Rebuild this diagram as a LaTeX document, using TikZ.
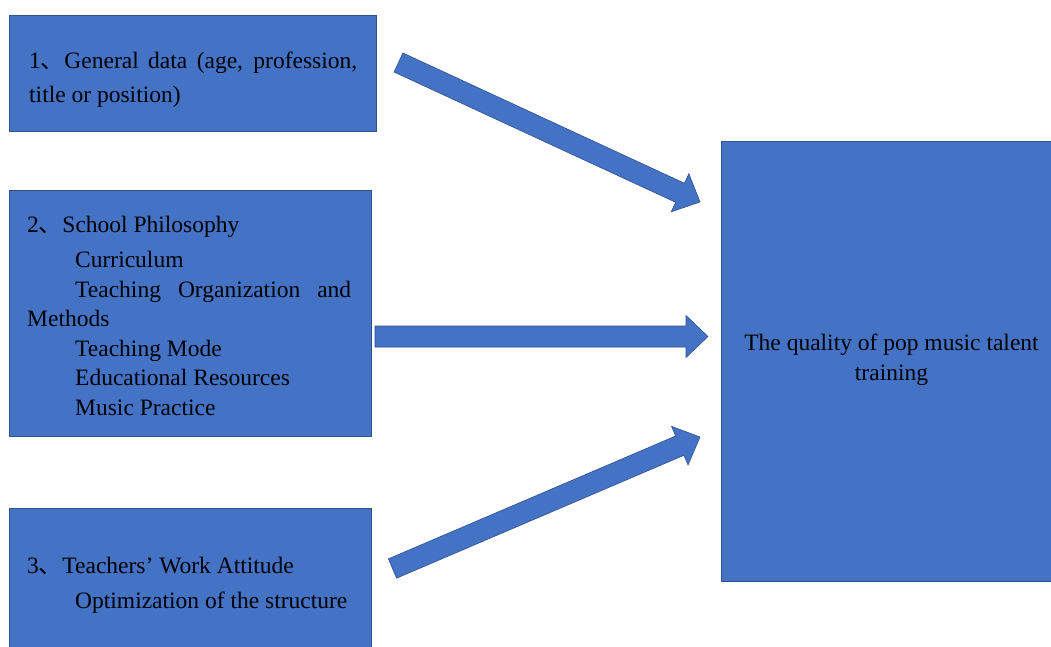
\documentclass[tikz,border=0pt]{standalone}
\usepackage{fontspec}
\setmainfont{Liberation Serif}
\newfontfamily\cjk{Noto Sans CJK SC}
\usetikzlibrary{calc}
\definecolor{boxblue}{HTML}{4472C4}
\definecolor{edgeblue}{HTML}{2F528F}
\tikzset{
  bluebox/.style={draw=edgeblue, fill=boxblue, line width=0.8pt, anchor=north west, inner sep=0pt},
  arrowshape/.style={draw=edgeblue, fill=boxblue, line width=0.6pt, line join=miter},
  txt/.style={inner sep=0pt, anchor=base west, font=\fontsize{23.5}{30}\selectfont, text=black},
  ctxt/.style={inner sep=0pt, anchor=base, font=\fontsize{23.5}{30}\selectfont, text=black}
}
\newcommand{\blockarrow}[2]{%
  \coordinate (#1b) at ($(#2)!22pt!(#1)$);
  \filldraw[arrowshape] ($(#1)!10.5pt!90:(#2)$) -- ($(#1b)!10.5pt!90:(#2)$) -- ($(#1b)!21pt!90:(#2)$) -- (#2) -- ($(#1b)!21pt!-90:(#2)$) -- ($(#1b)!10.5pt!-90:(#2)$) -- ($(#1)!10.5pt!-90:(#2)$) -- cycle;}
\begin{document}
\begin{tikzpicture}[x=1pt,y=-1pt]
\useasboundingbox (0,0) rectangle (1051,646);
% boxes
\node[bluebox, minimum width=367pt, minimum height=116pt] (b1) at (9,15) {};
\node[bluebox, minimum width=362pt, minimum height=246pt] (b2) at (9,190) {};
\node[bluebox, draw=none, minimum width=362pt, minimum height=170pt] (b3) at (9,508) {};
\draw[edgeblue, line width=0.8pt] (b3.south west) -- (b3.north west) -- (b3.north east) -- (b3.south east);
\node[bluebox, draw=none, minimum width=360pt, minimum height=440pt] (r) at (721,141) {};
\draw[edgeblue, line width=0.8pt] (r.north east) -- (r.north west) -- (r.south west) -- (r.south east);
% box 1 text
\node[txt] (t1a) at (29,68) {\makebox[328pt][s]{1{\cjk 、}General data (age, profession,}};
\node[txt] (t1b) at (29,102) {title or position)};
% box 2 text
\node[txt] (t2a) at (27,232) {2{\cjk 、}School Philosophy};
\node[txt] (t2b) at (75,267) {Curriculum};
\node[txt] (t2c) at (75,297) {\makebox[276pt][s]{Teaching Organization and}};
\node[txt] (t2d) at (27,326) {Methods};
\node[txt] (t2e) at (75,356) {Teaching Mode};
\node[txt] (t2f) at (75,385) {Educational Resources};
\node[txt] (t2g) at (75,415) {Music Practice};
% box 3 text
\node[txt] (t3a) at (27,573) {3{\cjk 、}Teachers’ Work Attitude};
\node[txt] (t3b) at (75,608) {Optimization of the structure};
% right text
\node[ctxt] (ra) at (891.5,350) {The quality of pop music talent};
\node[ctxt] (rb) at (891.5,380) {training};
% arrows
\coordinate (a1t) at (398.5,62.5);
\coordinate (a1h) at (700,202);
\coordinate (a2t) at (375,336.5);
\coordinate (a2h) at (708,336.5);
\coordinate (a3t) at (392.5,568.5);
\coordinate (a3h) at (700,437);
\blockarrow{a1t}{a1h}
\blockarrow{a2t}{a2h}
\blockarrow{a3t}{a3h}
\end{tikzpicture}
\end{document}
